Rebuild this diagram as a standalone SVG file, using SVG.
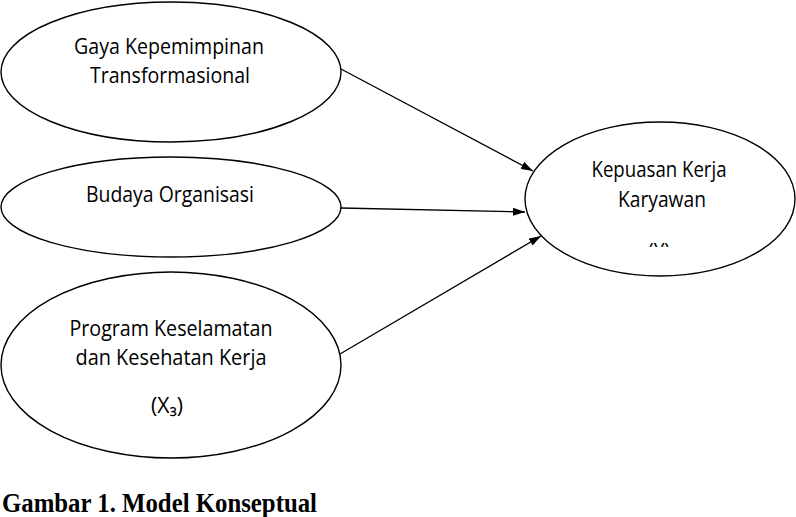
<svg xmlns="http://www.w3.org/2000/svg" width="796" height="517" viewBox="0 0 796 517">
<style>
.node ellipse{fill:#fff;stroke:#000;stroke-width:1.4}
.lbl{font-family:"Open Sans","Noto Sans",sans-serif;font-size:22px;fill:#000;text-anchor:middle}
.conn line{stroke:#000;stroke-width:1.3;fill:none}
.cap{font-family:"Liberation Serif","Times New Roman",serif;font-weight:bold;font-size:27px;fill:#000}
</style>
<defs>
<marker id="ah" viewBox="0 0 12 8" refX="12" refY="4" markerWidth="12" markerHeight="8" markerUnits="userSpaceOnUse" orient="auto">
<path d="M0,0 L12,4 L0,8 z" fill="#000"/>
</marker>
<clipPath id="yclip"><rect x="600" y="230" width="120" height="17"/></clipPath>
</defs>
<rect width="796" height="517" fill="#fff"/>
<g id="connectors" class="conn">
<line x1="341" y1="69" x2="533" y2="171" marker-end="url(#ah)"/>
<line x1="341" y1="208" x2="525" y2="212" marker-end="url(#ah)"/>
<line x1="340" y1="354" x2="541" y2="236" marker-end="url(#ah)"/>
</g>
<g id="node-x1" class="node">
<ellipse cx="171" cy="72" rx="170" ry="70"/>
<text class="lbl" x="169" y="54" textLength="190" lengthAdjust="spacingAndGlyphs">Gaya Kepemimpinan</text>
<text class="lbl" x="170" y="83" textLength="160" lengthAdjust="spacingAndGlyphs">Transformasional</text>
</g>
<g id="node-x2" class="node">
<ellipse cx="171" cy="207" rx="170" ry="50"/>
<text class="lbl" x="170" y="202" textLength="168" lengthAdjust="spacingAndGlyphs">Budaya Organisasi</text>
</g>
<g id="node-x3" class="node">
<ellipse cx="171" cy="365" rx="170" ry="93"/>
<text class="lbl" x="171" y="336" textLength="203" lengthAdjust="spacingAndGlyphs">Program Keselamatan</text>
<text class="lbl" x="171" y="365" textLength="191" lengthAdjust="spacingAndGlyphs">dan Kesehatan Kerja</text>
<text class="lbl" x="167" y="413" textLength="32" lengthAdjust="spacingAndGlyphs">(X₃)</text>
</g>
<g id="node-y" class="node">
<ellipse cx="660" cy="199" rx="135" ry="77"/>
<text class="lbl" x="659" y="177" textLength="135" lengthAdjust="spacingAndGlyphs">Kepuasan Kerja</text>
<text class="lbl" x="662" y="207" textLength="88" lengthAdjust="spacingAndGlyphs">Karyawan</text>
<text class="lbl" x="659" y="259" textLength="22" lengthAdjust="spacingAndGlyphs" clip-path="url(#yclip)">(Y)</text>
</g>
<text class="cap" x="2" y="512" textLength="315" lengthAdjust="spacingAndGlyphs">Gambar 1. Model Konseptual</text>
</svg>
